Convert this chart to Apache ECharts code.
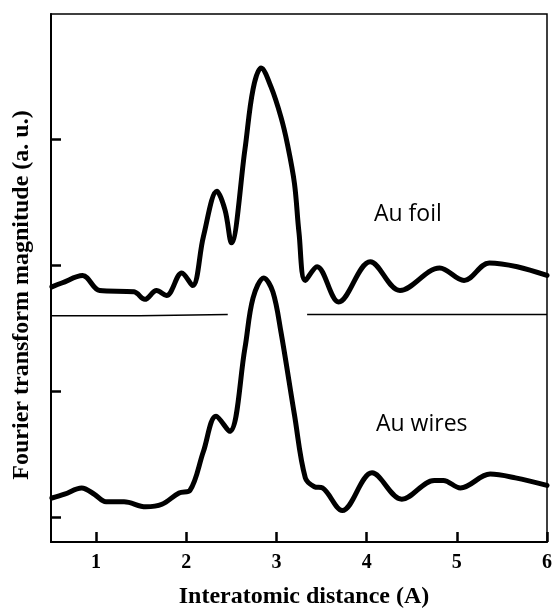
<!DOCTYPE html>
<html>
<head>
<meta charset="utf-8">
<script src="https://cdn.jsdelivr.net/npm/echarts@6/dist/echarts.min.js"></script>
<style>
html,body{margin:0;padding:0;background:#fff;}
#chart{width:555px;height:610px;}
</style>
</head>
<body>
<div id="chart"></div>
<script>
// Au foil spectrum (upper curve, offset)
var auFoilX = [0.51,0.62,0.85,1.04,1.42,1.54,1.67,1.78,1.95,2.07,2.19,2.34,2.43,2.50,2.65,2.74,2.83,2.94,3.05,3.12,3.20,3.25,3.32,3.45,3.69,4.04,4.37,4.81,5.08,5.36,5.67,6.00];
var auFoilY = [1.83,1.86,1.92,1.80,1.79,1.73,1.80,1.76,1.94,1.84,2.23,2.59,2.44,2.18,2.92,3.40,3.57,3.42,3.18,2.97,2.65,2.26,1.88,1.99,1.71,2.03,1.80,1.98,1.88,2.02,1.99,1.92];
// Au wires spectrum (lower curve)
var auWiresX = [0.51,0.65,0.84,0.98,1.11,1.31,1.55,1.73,1.92,2.04,2.19,2.33,2.48,2.65,2.74,2.86,2.96,3.05,3.20,3.32,3.42,3.51,3.73,4.06,4.39,4.75,4.85,5.04,5.37,5.65,6.00];
var auWiresY = [0.15,0.18,0.23,0.18,0.12,0.12,0.08,0.10,0.19,0.21,0.52,0.80,0.68,1.34,1.74,1.90,1.79,1.47,0.81,0.31,0.24,0.23,0.05,0.35,0.14,0.29,0.29,0.23,0.34,0.31,0.25];
// Separator baseline segments
var sepLeftX = [0.5, 1.48, 1.48, 2.46];
var sepLeftY = [1.60, 1.60, 1.61, 1.61];
var sepRightX = [3.34, 6.0];
var sepRightY = [1.61, 1.61];
// Ticks
var xTickValues = [1, 2, 3, 4, 5, 6];
var yTickValues = [0, 1, 2, 3];
var xTitle = 'Interatomic distance (A)';
var yTitle = 'Fourier transform magnitude (a. u.)';
var labelFoil = 'Au foil';
var labelWires = 'Au wires';

function pairs(xs, ys){ return xs.map(function(x,i){ return [x, ys[i]]; }); }

var chart = echarts.init(document.getElementById('chart'), null, {renderer:'canvas'});
var curveStyle = {color:'#000', width:5, cap:'round', join:'round'};
chart.setOption({
  animation:false,
  backgroundColor:'#fff',
  grid:{left:51, right:3, top:14, bottom:68, show:true, borderColor:'#000', borderWidth:1.5, backgroundColor:'transparent'},
  xAxis:{
    type:'value', min:0.5, max:6,
    axisLine:{show:true, onZero:false, lineStyle:{color:'#000', width:2}},
    axisTick:{show:true, inside:true, length:10, customValues:xTickValues, lineStyle:{color:'#000', width:2.5}},
    axisLabel:{show:true, customValues:xTickValues, margin:11, color:'#000', fontFamily:'Liberation Serif', fontWeight:'bold', fontSize:20},
    splitLine:{show:false}
  },
  yAxis:{
    type:'value', min:-0.2, max:4,
    axisLine:{show:true, onZero:false, lineStyle:{color:'#000', width:2}},
    axisTick:{show:true, inside:true, length:10, customValues:yTickValues, lineStyle:{color:'#000', width:2.5}},
    axisLabel:{show:false},
    splitLine:{show:false}
  },
  graphic:[
    {type:'text', x:304, y:597, style:{text:xTitle, font:'bold 24px "Liberation Serif"', fill:'#000', align:'center', verticalAlign:'middle', textAlign:'center', textVerticalAlign:'middle'}},
    {type:'text', x:22, y:295, rotation:Math.PI/2, style:{text:yTitle, font:'bold 24px "Liberation Serif"', fill:'#000', align:'center', verticalAlign:'middle', textAlign:'center', textVerticalAlign:'middle'}},
    {type:'text', x:374, y:214, style:{text:labelFoil, font:'23px "Open Sans"', fill:'#000', align:'left', verticalAlign:'middle', textAlign:'left', textVerticalAlign:'middle'}},
    {type:'text', x:376, y:424, style:{text:labelWires, font:'23px "Open Sans"', fill:'#000', align:'left', verticalAlign:'middle', textAlign:'left', textVerticalAlign:'middle'}}
  ],
  series:[
    {type:'line', data:pairs(sepLeftX, sepLeftY), showSymbol:false, symbol:'none', lineStyle:{color:'#000', width:1.5}, silent:true},
    {type:'line', data:pairs(sepRightX, sepRightY), showSymbol:false, symbol:'none', lineStyle:{color:'#000', width:1.5}, silent:true},
    {type:'line', name:labelFoil, data:pairs(auFoilX, auFoilY), smooth:0.35, showSymbol:false, symbol:'none', lineStyle:curveStyle},
    {type:'line', name:labelWires, data:pairs(auWiresX, auWiresY), smooth:0.35, showSymbol:false, symbol:'none', lineStyle:curveStyle}
  ]
});
</script>
</body>
</html>
